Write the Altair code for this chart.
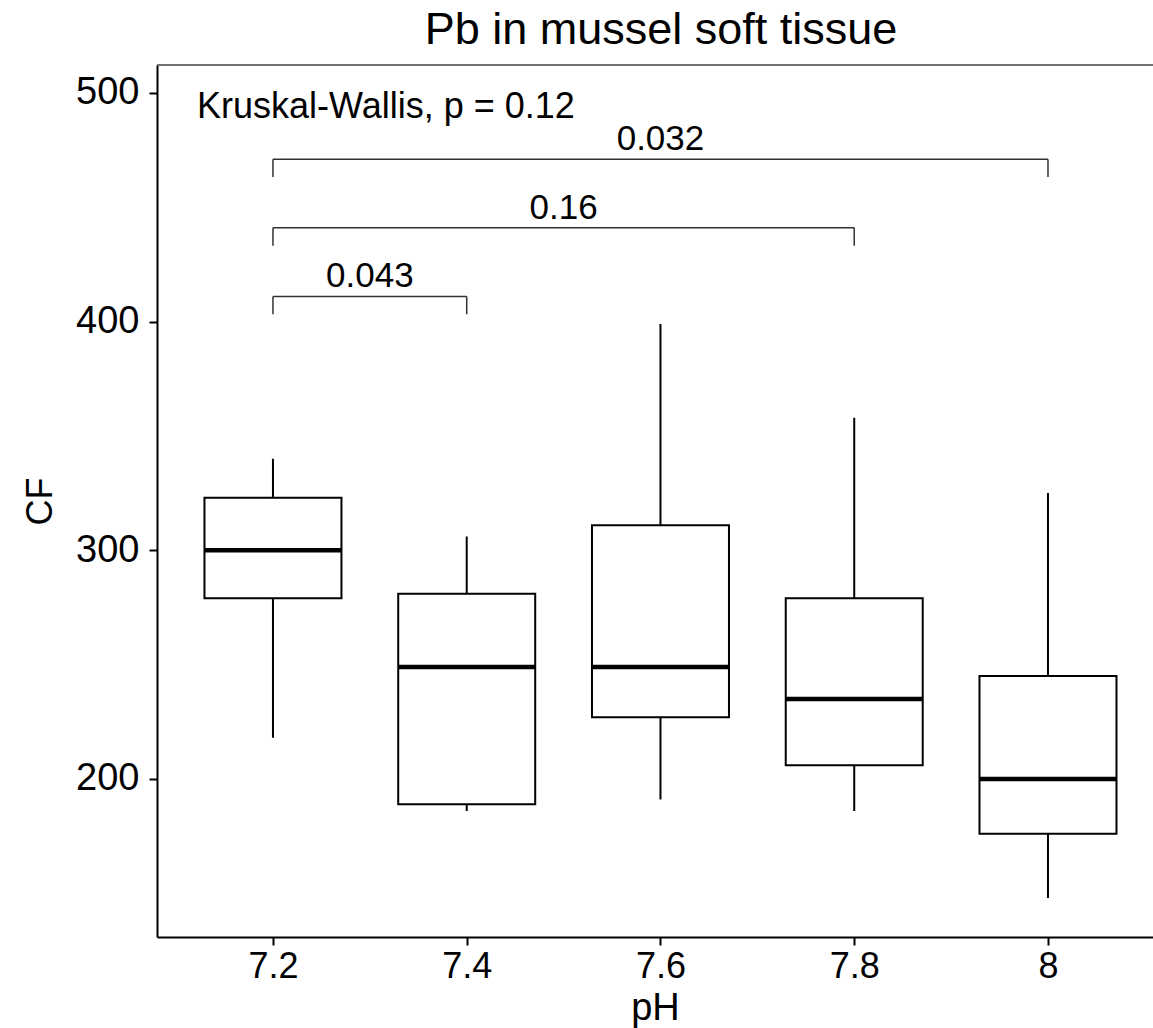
import altair as alt
import pandas as pd

# ---- data ----
ph = [7.2, 7.4, 7.6, 7.8, 8.0]
whisker_low = [218, 186, 191, 186, 148]
q1 = [279, 189, 227, 206, 176]
median = [300, 249, 249, 235, 200]
q3 = [323, 281, 311, 279, 245]
whisker_high = [340, 306, 399, 358, 325]

# pairwise comparison brackets
br_from = [7.2, 7.2, 7.2]
br_to = [8.0, 7.8, 7.4]
br_level = [471, 441, 411]
br_label = ["0.032", "0.16", "0.043"]
tick_drop = 7.8  # bracket end-tick length in data units

kw_text = ["Kruskal-Wallis, p = 0.12"]
kw_x = [7.1216]
kw_y = [489]

FONT = "Liberation Sans"
W, H = 996, 872
XDOM = [7.0803, 8.1084]
YDOM = [130.9, 512.2]
HALF = 0.0707

box = pd.DataFrame(dict(ph=ph, lo=whisker_low, q1=q1, med=median, q3=q3, hi=whisker_high))
box["x1"] = box["ph"] - HALF
box["x2"] = box["ph"] + HALF

br = pd.DataFrame(dict(a=br_from, b=br_to, lvl=br_level, lab=br_label))
br["mid"] = (br["a"] + br["b"]) / 2
br["low"] = br["lvl"] - tick_drop
kw = pd.DataFrame(dict(t=kw_text, x=kw_x, y=kw_y))

xs = alt.Scale(domain=XDOM, nice=False, zero=False)
ys = alt.Scale(domain=YDOM, nice=False, zero=False)

xaxis = alt.Axis(values=ph, format="~g", title="pH", grid=False, labelPadding=4, titlePadding=5,
                 titleFontSize=38)
yaxis = alt.Axis(values=[200, 300, 400, 500], title="CF", grid=False, labelPadding=10,
                 titlePadding=16, titleFontSize=36, labelFontSize=38)

base = alt.Chart(box)

whisk = base.mark_rule(color="black", strokeWidth=2).encode(
    x=alt.X("ph:Q", scale=xs, axis=xaxis),
    y=alt.Y("lo:Q", scale=ys, axis=yaxis),
    y2="hi:Q",
)
rect = base.mark_rect(fill="white", stroke="black", strokeWidth=2).encode(
    x=alt.X("x1:Q", scale=xs),
    x2="x2:Q",
    y=alt.Y("q1:Q", scale=ys),
    y2="q3:Q",
)
med = base.mark_rule(color="black", strokeWidth=4.5).encode(
    x=alt.X("x1:Q", scale=xs),
    x2="x2:Q",
    y=alt.Y("med:Q", scale=ys),
)

bc = alt.Chart(br)
bh = bc.mark_rule(color="#333333", strokeWidth=1.5).encode(
    x=alt.X("a:Q", scale=xs), x2="b:Q", y=alt.Y("lvl:Q", scale=ys)
)
bl = bc.mark_rule(color="#333333", strokeWidth=1.5).encode(
    x=alt.X("a:Q", scale=xs), y=alt.Y("lvl:Q", scale=ys), y2="low:Q"
)
br_r = bc.mark_rule(color="#333333", strokeWidth=1.5).encode(
    x=alt.X("b:Q", scale=xs), y=alt.Y("lvl:Q", scale=ys), y2="low:Q"
)
bt = bc.mark_text(font=FONT, fontSize=35, color="black", baseline="alphabetic", dy=-9).encode(
    x=alt.X("mid:Q", scale=xs), y=alt.Y("lvl:Q", scale=ys), text="lab:N"
)

kwt = alt.Chart(kw).mark_text(font=FONT, fontSize=36, color="black", align="left", baseline="alphabetic").encode(
    x=alt.X("x:Q", scale=xs), y=alt.Y("y:Q", scale=ys), text="t:N"
)

top = alt.Chart(kw).mark_rule(color="#444444", strokeWidth=1.5).encode(
    x=alt.value(0), x2=alt.value(W), y=alt.value(0)
)

chart = alt.layer(top, whisk, rect, med, bh, bl, br_r, bt, kwt).properties(
    width=W,
    height=H,
    autosize=alt.AutoSizeParams(type="none"),
    padding={"left": 157, "top": 65, "right": 0, "bottom": 91},
    title=alt.TitleParams("Pb in mussel soft tissue", font=FONT, fontSize=45, fontWeight="normal",
                          color="black", anchor="middle", dx=6, offset=11),
).configure_view(stroke=None).configure_axis(
    domainColor="black", domainWidth=2, tickColor="black", tickWidth=2, tickSize=8,
    labelFont=FONT, labelFontSize=36, labelColor="black",
    titleFont=FONT, titleColor="black", titleFontWeight="normal",
)

chart.save("out.html", embed_options={"renderer": "svg", "actions": False})
